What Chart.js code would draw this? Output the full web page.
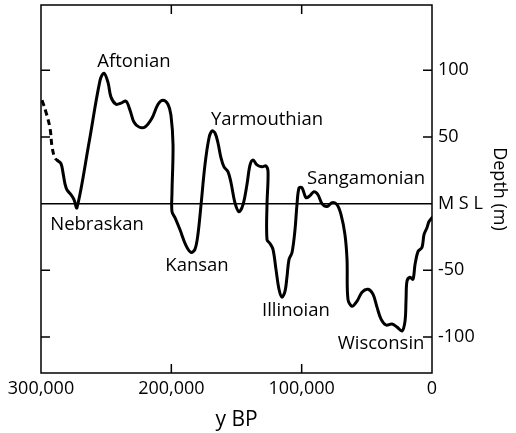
<!DOCTYPE html>
<html>
<head>
<meta charset="utf-8">
<script src="https://cdn.jsdelivr.net/npm/chart.js@4.4.1/dist/chart.umd.min.js"></script>
<style>
html, body { margin: 0; padding: 0; background: #fff; }
canvas { display: block; }
</style>
</head>
<body>
<canvas id="seaLevelChart" width="516" height="433"></canvas>
<script>
// Sea level through the last glacial cycles (years before present, metres vs MSL)
const dashYears = [299200, 296200, 293100, 291500, 289300, 287000];
const dashDepth = [77.6, 68.7, 56.7, 42.5, 34.3, 32.1];

const years = [
    287000, 284600, 283100, 281600, 280100, 277000, 274700, 272400, 263200, 254700,
    251700, 248600, 246300, 242500, 238600, 234800, 231700, 228700, 224800, 220200,
    214800, 210200, 206400, 202600, 200300, 198700, 199500, 199500, 197200, 193400,
    188800, 184900, 181900, 179600, 177200, 174200, 171100, 168800, 166500, 164200,
    161900, 159600, 156500, 154200, 151200, 148100, 145000, 142000, 139600, 137300,
    134300, 130400, 127400, 125800, 126600, 126600, 124300, 122000, 119700, 117400,
    115100, 112800, 111300, 109700, 107400, 105100, 103600, 102000, 99700, 96700,
    93600, 90500, 87500, 84400, 80600, 76700, 72900, 69800, 66800, 65200,
    64500, 61400, 57500, 53700, 49100, 45300, 42200, 39100, 35300, 30700,
    26900, 23000, 20700, 19900, 19200, 16900, 14600, 13000, 10700, 7700,
    6100, 3800, 2300, 0
];
const depth = [
    32.1, 29.9, 23.1, 14.9, 10.4, 6.7, 3.0, -3.0, 45.5, 92.5,
    97.8, 91.0, 79.9, 74.6, 75.4, 76.9, 70.1, 61.2, 57.5, 57.5,
    64.2, 74.6, 77.6, 74.6, 66.4, 44.0, 8.2, -6.0, -10.4, -19.4,
    -31.3, -36.6, -34.3, -23.1, -0.7, 29.1, 49.3, 54.5, 53.0, 45.5,
    34.3, 27.6, 23.9, 15.7, 0.7, -6.0, -0.7, 14.2, 29.1, 32.8,
    29.1, 27.6, 28.4, 23.9, -0.7, -26.9, -29.9, -34.3, -49.3, -64.2,
    -70.1, -65.7, -55.2, -41.8, -36.6, -19.4, -0.7, 11.9, 11.9, 4.5,
    6.0, 9.0, 6.7, 0.0, -2.2, 0.7, -0.7, -8.2, -23.1, -41.8,
    -71.6, -76.9, -73.1, -66.4, -64.2, -67.9, -77.6, -86.6, -91.0, -90.3,
    -92.5, -95.5, -88.1, -71.6, -58.2, -55.2, -56.7, -45.5, -35.8, -32.8,
    -23.1, -17.9, -13.4, -10.4
];

// glacial / interglacial stage names and where they sit on the plot
const stageNames = ['Aftonian', 'Nebraskan', 'Kansan', 'Yarmouthian', 'Sangamonian', 'Illinoian', 'Wisconsin'];
const stageYears = [228700, 257000, 180300, 126600, 50600, 104400, 39100];
const stageDepth = [106.7, -15.7, -46.3, 62.7, 18.7, -80.6, -105.2];

const xTickValues = [0, 100000, 200000, 300000];
const yTickValues = [-100, -50, 0, 50, 100];

Chart.defaults.font.family = '"Open Sans", sans-serif';
Chart.defaults.color = '#000';

const toPoints = (xs, ys) => xs.map((v, i) => ({ x: v, y: ys[i] }));

const frame = {
    id: 'frame',
    afterDatasetsDraw(chart) {
        const { ctx, chartArea: a, scales: { x, y } } = chart;
        const len = 9;
        ctx.save();
        ctx.strokeStyle = '#000';
        ctx.lineWidth = 1.5;
        ctx.strokeRect(a.left, a.top, a.right - a.left, a.bottom - a.top);
        ctx.beginPath();
        x.ticks.forEach(t => {
            if (t.value <= x.min || t.value >= x.max) return;
            const px = x.getPixelForValue(t.value);
            ctx.moveTo(px, a.bottom); ctx.lineTo(px, a.bottom - len);
            ctx.moveTo(px, a.top); ctx.lineTo(px, a.top + len);
        });
        y.ticks.forEach(t => {
            if (t.value === 0) return;
            const py = y.getPixelForValue(t.value);
            ctx.moveTo(a.left, py); ctx.lineTo(a.left + len, py);
            ctx.moveTo(a.right, py); ctx.lineTo(a.right - len, py);
        });
        ctx.stroke();
        ctx.restore();
    }
};

const stageLabels = {
    id: 'stageLabels',
    afterDatasetsDraw(chart) {
        const { ctx, scales: { x, y } } = chart;
        ctx.save();
        ctx.font = '18.5px "Open Sans", sans-serif';
        ctx.fillStyle = '#000';
        ctx.textAlign = 'center';
        ctx.textBaseline = 'middle';
        stageNames.forEach((name, i) => {
            ctx.fillText(name, x.getPixelForValue(stageYears[i]), y.getPixelForValue(stageDepth[i]));
        });
        ctx.restore();
    }
};

new Chart(document.getElementById('seaLevelChart'), {
    type: 'line',
    data: {
        datasets: [
            { data: toPoints(dashYears, dashDepth), borderColor: '#000', borderWidth: 3, borderDash: [6, 4], tension: 0.4, pointRadius: 0 },
            { data: toPoints(years, depth), borderColor: '#000', borderWidth: 3, tension: 0.35, pointRadius: 0, borderJoinStyle: 'round', borderCapStyle: 'round' },
        ]
    },
    options: {
        responsive: false,
        animation: false,
        layout: { padding: { left: 41, top: 5, right: 0, bottom: 0 } },
        plugins: { legend: { display: false }, tooltip: { enabled: false } },
        scales: {
            x: {
                type: 'linear', reverse: true, min: 0, max: 300000,
                afterFit: s => { s.height = 60; s.paddingLeft = 0; s.paddingRight = 0; },
                afterBuildTicks: s => { s.ticks = xTickValues.map(v => ({ value: v })); },
                grid: { display: false, drawTicks: false },
                border: { display: false },
                ticks: { padding: 5, font: { size: 18 }, maxRotation: 0, callback: v => v.toLocaleString('en-US') },
                title: { display: true, text: 'y BP', font: { size: 21 }, padding: { top: 0, bottom: 0 } },
            },
            y: {
                type: 'linear', position: 'right', min: -127, max: 149,
                afterFit: s => { s.width = 84; s.paddingTop = 0; s.paddingBottom = 0; },
                afterBuildTicks: s => { s.ticks = yTickValues.map(v => ({ value: v })); },
                grid: {
                    drawTicks: false, lineWidth: 1.5,
                    color: c => (c.tick && c.tick.value === 0 ? '#000' : 'rgba(0,0,0,0)'),
                },
                border: { display: false },
                ticks: { padding: 6, font: { size: 18 }, callback: v => (v === 0 ? 'M S L' : v) },
                title: { display: true, text: 'Depth (m)', font: { size: 18 }, padding: { top: 6, bottom: 0 } },
            },
        },
    },
    plugins: [frame, stageLabels],
});
</script>
</body>
</html>
